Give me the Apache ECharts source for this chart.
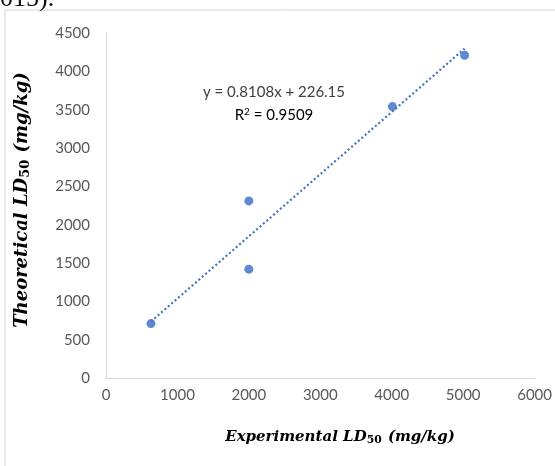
<!DOCTYPE html>
<html><head><meta charset="utf-8">
<script src="https://cdn.jsdelivr.net/npm/echarts@6/dist/echarts.min.js"></script>
<style>html,body{margin:0;padding:0;background:#fff}#c{width:555px;height:466px}</style>
</head><body><div id="c"></div>
<script>
const experimental = [630, 2000, 2000, 4010, 5020];
const theoretical = [710, 2310, 1420, 3540, 4210];
const slope = 0.8108, intercept = 226.15, r2 = 0.9509;
const xTicks = [0, 1000, 2000, 3000, 4000, 5000, 6000];
const yTicks = [0, 500, 1000, 1500, 2000, 2500, 3000, 3500, 4000, 4500];

const pts = experimental.map((x, i) => [x, theoretical[i]]);
const xMin = Math.min(...experimental), xMax = Math.max(...experimental);
const trend = [[xMin, slope * xMin + intercept], [xMax, slope * xMax + intercept]];

const chart = echarts.init(document.getElementById('c'));
const tickFont = { color: '#595959', fontSize: 15, fontFamily: 'Lato', formatter: v => String(v) };
function titleRich(sz) {
  return {
    t: { fontFamily: 'DejaVu Serif', fontStyle: 'italic', fontWeight: 'bold', fontSize: sz, color: '#1a1a1a' },
    s: { fontFamily: 'DejaVu Serif', fontWeight: 'bold', fontSize: sz * 0.72, color: '#1a1a1a', verticalAlign: 'bottom', padding: [7, 1, 0, 0] }
  };
}
chart.setOption({
  animation: false,
  backgroundColor: '#fff',
  grid: { left: 106, right: 20, top: 33, bottom: 88, containLabel: false },
  xAxis: {
    type: 'value', min: 0, max: 6000, interval: 1000,
    axisLine: { show: true, lineStyle: { color: '#d9d9d9', width: 1 } },
    axisTick: { show: false }, splitLine: { show: false },
    axisLabel: Object.assign({ margin: 10 }, tickFont)
  },
  yAxis: {
    type: 'value', min: 0, max: 4500, interval: 500,
    axisLine: { show: true, lineStyle: { color: '#d9d9d9', width: 1 } },
    axisTick: { show: false }, splitLine: { show: false },
    axisLabel: Object.assign({ margin: 16 }, tickFont)
  },
  series: [
    { type: 'line', data: trend, symbol: 'none', silent: true,
      lineStyle: { color: '#4472C4', width: 2.2, type: [2, 2.5] } },
    { type: 'scatter', data: pts, symbol: 'circle', symbolSize: 9,
      itemStyle: { color: '#3A6BC6' } }
  ],
  graphic: [
    { type: 'rect', shape: { x: 5, y: 10, width: 600, height: 500 },
      style: { fill: 'none', stroke: '#d4d4d4', lineWidth: 1 }, z: -1 },
    { type: 'text', left: 0, top: -14,
      style: { text: '015).', fontFamily: 'Liberation Serif', fontSize: 26, fill: '#111' } },
    { type: 'text', x: 340, y: 437,
      style: { text: '{t|Experimental LD}{s|50}{t| (mg/kg)}', align: 'center', verticalAlign: 'middle', rich: titleRich(15) } },
    { type: 'text', x: 22, y: 200, rotation: Math.PI / 2,
      style: { text: '{t|Theoretical LD}{s|50}{t| (mg/kg)}', align: 'center', verticalAlign: 'middle', rich: titleRich(18) } },
    { type: 'text', x: 274, y: 92,
      style: { text: 'y = 0.8108x + 226.15', fontFamily: 'Lato', fontSize: 15, fill: '#404040', align: 'center', verticalAlign: 'middle' } },
    { type: 'text', x: 274, y: 115,
      style: { text: '{a|R}{b|2}{a| = ' + r2.toFixed(4) + '}', align: 'center', verticalAlign: 'middle',
        rich: { a: { fontFamily: 'Lato', fontSize: 15, color: '#404040' },
                b: { fontFamily: 'Lato', fontSize: 10, color: '#404040', verticalAlign: 'top', padding: [0, 0, 6, 0] } } } }
  ]
});
</script></body></html>
